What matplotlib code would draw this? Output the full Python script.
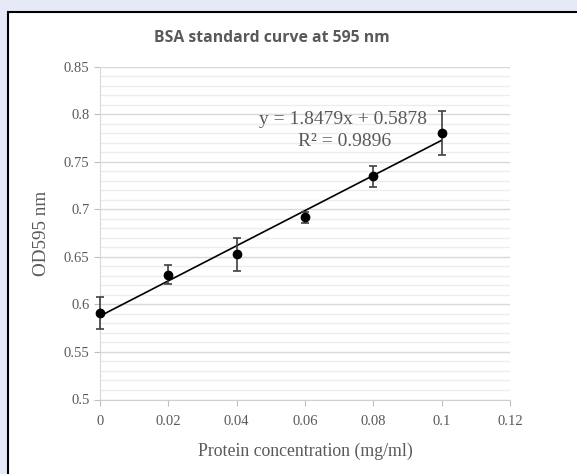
import matplotlib
matplotlib.use("Agg")
import matplotlib.pyplot as plt
import numpy as np
from matplotlib.patches import Rectangle
from matplotlib.ticker import MultipleLocator

# data
conc = [0, 0.02, 0.04, 0.06, 0.08, 0.1]
od = [0.591, 0.6314, 0.6525, 0.6917, 0.7346, 0.7804]
err = [0.0165, 0.0098, 0.017, 0.006, 0.0106, 0.023]
slope = 1.8479
intercept = 0.5878
r2 = 0.9896
xticks = [0, 0.02, 0.04, 0.06, 0.08, 0.1, 0.12]
yticks = [0.5, 0.55, 0.6, 0.65, 0.7, 0.75, 0.8, 0.85]

serif = "Liberation Serif"
grey = "#595959"

fig = plt.figure(figsize=(5.77, 4.74), dpi=100)
fig.patch.set_facecolor("#E6EAF6")
fig.patches.append(Rectangle((8 / 577, -0.05), 1.0, 1 - 12 / 474 + 0.05,
                             transform=fig.transFigure, facecolor="white",
                             edgecolor="black", linewidth=1.5, zorder=-5))

ax = fig.add_axes([100 / 577, 1 - 399.5 / 474, 410 / 577, 332.8 / 474])
ax.set_zorder(2)
ax.set_facecolor("none")

ax.set_xlim(0, 0.12)
ax.set_ylim(0.5, 0.85)
ax.set_xticks(xticks)
ax.set_xticklabels([f"{t:g}" for t in xticks])
ax.set_yticks(yticks)
ax.set_yticklabels([f"{t:g}" for t in yticks])
ax.yaxis.set_minor_locator(MultipleLocator(0.01))

ax.grid(True, which="major", axis="y", color="#D9D9D9", linewidth=1)
ax.grid(True, which="minor", axis="y", color="#EDEDED", linewidth=1)
ax.set_axisbelow(True)

for s in ["top", "right"]:
    ax.spines[s].set_visible(False)
ax.spines["left"].set_color("#D9D9D9")
ax.spines["bottom"].set_color("#D0D0D0")
ax.tick_params(axis="both", which="major", colors="#BFBFBF", length=4,
               labelcolor=grey, labelsize=10.5)
ax.tick_params(axis="x", pad=7)
ax.tick_params(axis="y", which="minor", length=0)
for lab in ax.get_xticklabels() + ax.get_yticklabels():
    lab.set_fontfamily(serif)

# trendline
xs = np.array([conc[0], conc[-1]])
ax.plot(xs, slope * xs + intercept, color="black", linewidth=1.2, zorder=3)

ax.errorbar(conc, od, yerr=err, fmt="o", color="black", ecolor="#404040",
            elinewidth=1.2, capsize=3, capthick=1.2, markersize=6, zorder=4,
            clip_on=False)

ax.text(0.0712, 0.794, f"y = {slope}x + {intercept}", ha="center", va="center",
        fontsize=14, color=grey, fontfamily=serif)
ax.text(0.0715, 0.7712, f"R² = {r2}", ha="center", va="center",
        fontsize=14, color=grey, fontfamily=serif)

ax.set_xlabel("Protein concentration (mg/ml)", fontsize=12.8, color=grey,
              fontfamily=serif, labelpad=11)
ax.set_ylabel("OD595 nm", fontsize=13.8, color=grey, fontfamily=serif,
              labelpad=10)

fig.text(272 / 577, 1 - 38 / 474, "BSA standard curve at 595 nm",
         ha="center", va="center", fontsize=11.3, fontweight="bold",
         color=grey, fontfamily="Open Sans")

fig.savefig("out.png", dpi=100)
